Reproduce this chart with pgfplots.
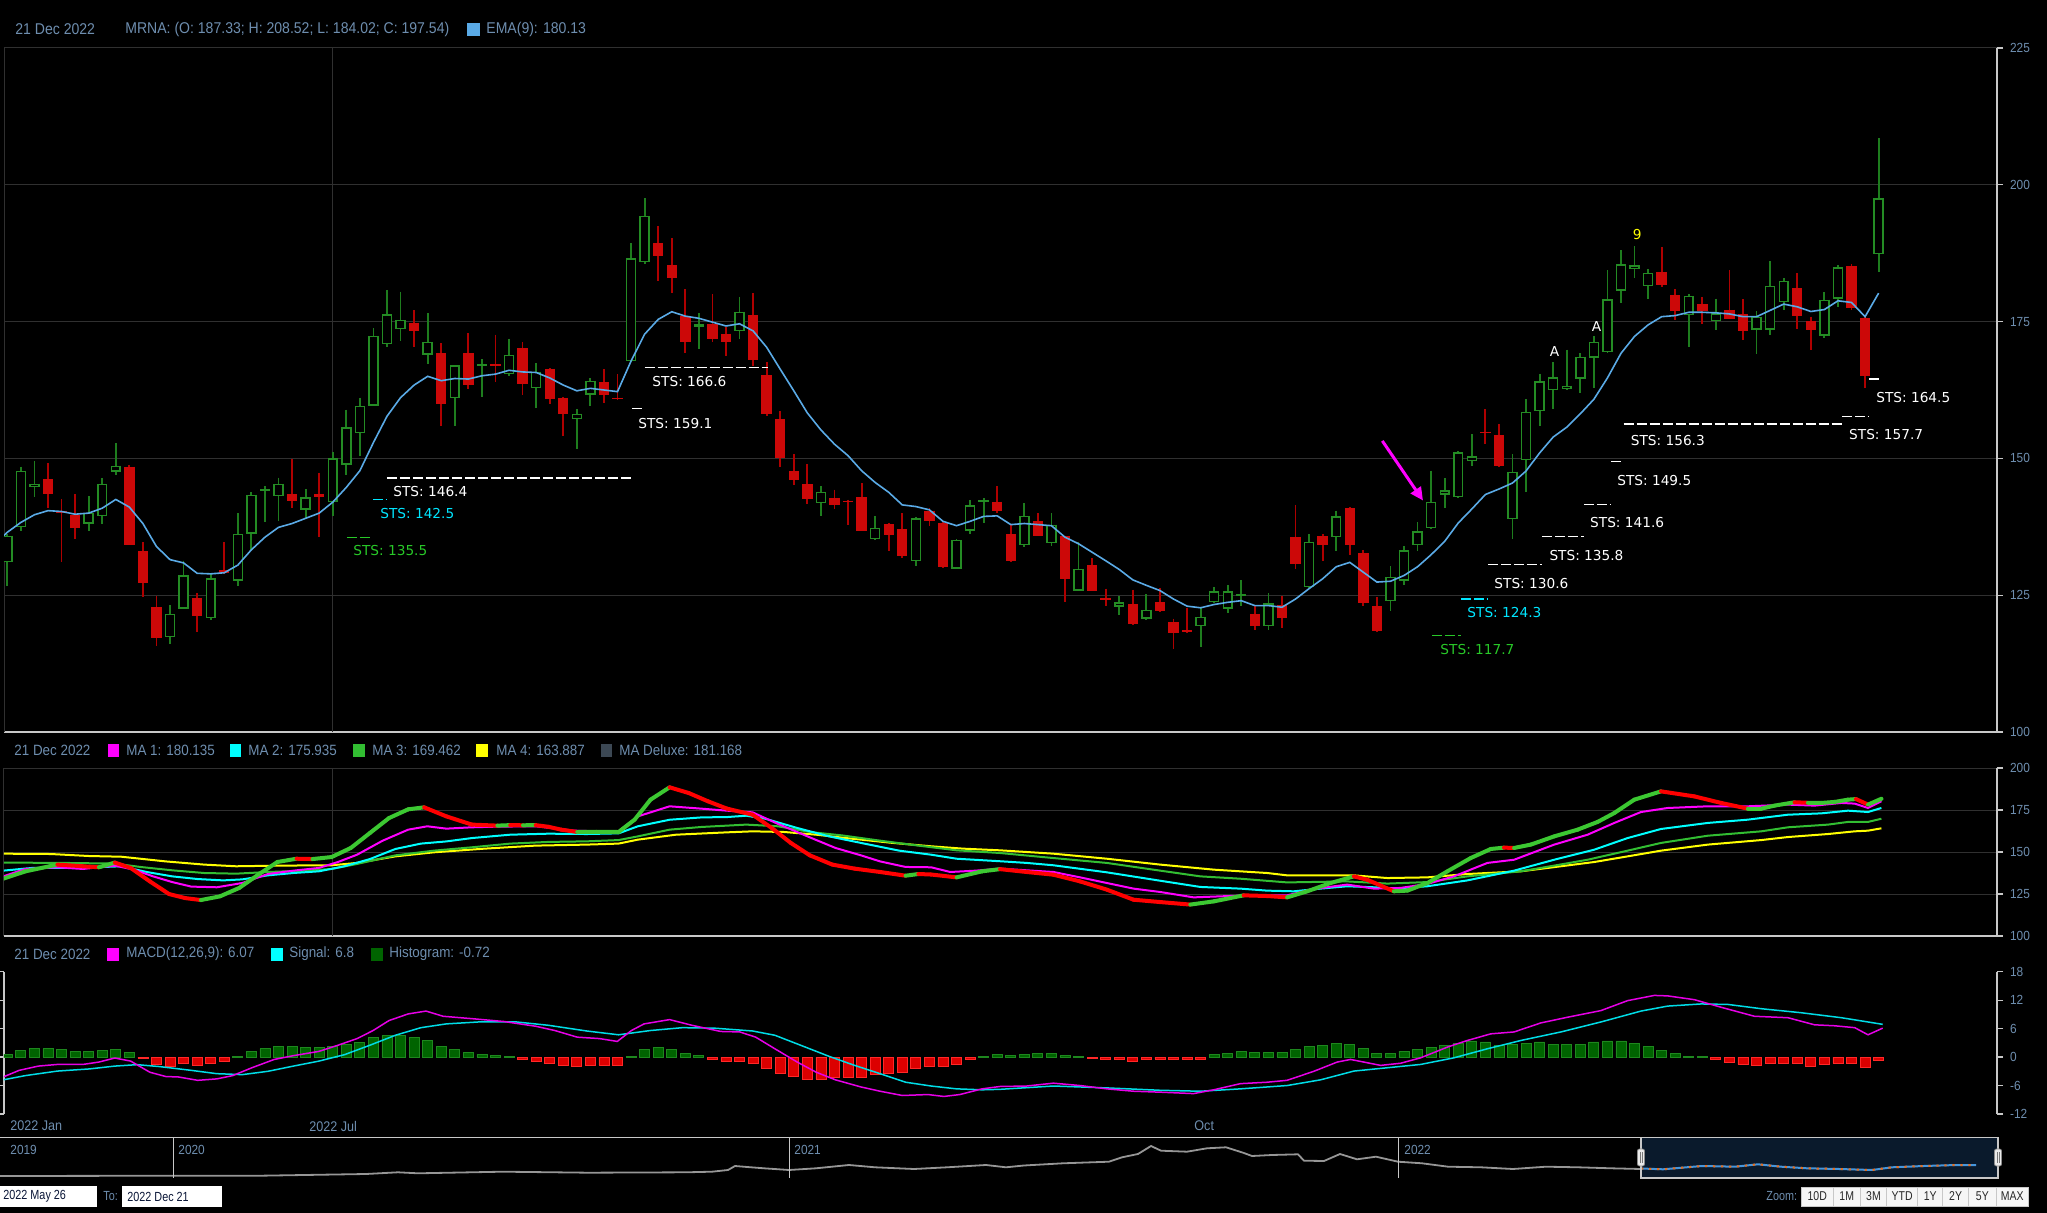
\documentclass[border=0pt]{standalone}
\usepackage{pgfplots}
\pgfplotsset{compat=1.18}
\usepackage{pgfplotstable}
\usepackage{fontspec}
\setmainfont{Liberation Sans}
\newfontfamily\nf[FakeStretch=0.9]{Liberation Sans}
\newfontfamily\nnf[FakeStretch=0.82]{Liberation Sans}
\newfontfamily\dv{DejaVu Sans}
\usetikzlibrary{arrows.meta}
\definecolor{cgreen}{RGB}{36,140,36}
\definecolor{gwick}{RGB}{30,125,30}
\definecolor{cred}{RGB}{204,8,8}
\definecolor{rwick}{RGB}{175,0,0}
\definecolor{emac}{RGB}{90,170,230}
\definecolor{gridc}{RGB}{48,48,48}
\definecolor{axc}{RGB}{200,200,200}
\definecolor{tickc}{RGB}{110,142,175}
\definecolor{ma1}{RGB}{255,0,255}
\definecolor{ma2}{RGB}{0,255,255}
\definecolor{ma3}{RGB}{50,190,50}
\definecolor{ma4}{RGB}{255,255,0}
\definecolor{mdx}{RGB}{60,72,84}
\definecolor{macdc}{RGB}{230,0,230}
\definecolor{sigc}{RGB}{0,220,230}
\definecolor{hg}{RGB}{0,100,0}
\definecolor{hgb}{RGB}{30,135,30}
\definecolor{hr}{RGB}{220,0,0}
\definecolor{hrb}{RGB}{255,40,40}
\definecolor{stscyan}{RGB}{0,230,255}
\definecolor{stsgreen}{RGB}{40,200,40}
\definecolor{navsel}{RGB}{10,26,44}
\definecolor{navline}{RGB}{150,150,150}
\definecolor{navblue}{RGB}{70,150,220}
\definecolor{navorange}{RGB}{230,110,30}
\definecolor{hndf}{RGB}{235,235,235}
\definecolor{hndb}{RGB}{140,140,140}
\definecolor{hndl}{RGB}{120,120,120}
\definecolor{btnf}{RGB}{246,246,246}
\definecolor{btnb}{RGB}{200,200,200}
\definecolor{btnt}{RGB}{40,40,40}
\definecolor{boxt}{RGB}{10,22,55}
\newcommand\tf{\nf\fontsize{6.6}{7.5}\selectfont}
\newcommand\hf{\nf\fontsize{7}{8}\selectfont}
\newcommand\hfa{\nf\fontsize{7.8}{9}\selectfont}
\newcommand\hfb{\nf\fontsize{7.45}{8.5}\selectfont}
\newcommand\stsf{\dv\fontsize{6.85}{8}\selectfont}

\pgfplotstableread{
n o h l c
1 131.0 136.2 126.6 135.9
2 137.4 148.5 136.7 147.75
3 144.7 149.5 142.9 145.4
7 138.1 143.1 136.8 140.1
8 139.4 146.4 138.1 145.4
9 147.6 152.8 147.0 148.7
13 117.3 123.2 116.0 121.6
14 122.5 131.3 122.4 128.6
16 120.8 128.9 120.4 128.1
18 127.6 140.0 126.6 136.2
19 136.2 143.8 133.2 143.4
20 144.0 145.0 138.3 144.4
21 143.1 146.5 138.6 145.4
23 140.6 144.4 138.9 142.9
25 142.0 151.1 139.5 150.0
26 148.8 158.9 147.0 155.7
27 154.6 161.1 150.5 159.6
28 159.6 173.8 159.5 172.4
29 170.9 180.8 170.4 176.3
30 173.6 180.5 171.4 175.3
32 168.9 176.6 167.2 171.3
34 161.0 167.1 155.9 167.0
36 166.8 168.1 161.3 167.2
38 165.4 171.9 165.1 168.9
40 162.8 167.4 159.3 165.8
43 157.2 159.0 151.8 158.2
44 161.6 164.7 159.6 164.2
47 167.8 189.4 167.7 186.6
48 185.8 197.5 185.6 194.3
52 174.1 176.6 170.0 174.5
55 173.2 179.5 171.9 176.8
61 141.8 144.9 139.4 143.9
65 135.2 139.4 135.1 137.35
68 131.2 139.2 130.3 139.05
71 129.8 135.3 129.7 135.1
72 136.8 142.4 136.2 141.4
73 142.0 142.8 138.2 142.4
76 134.1 141.85 133.8 139.5
78 134.5 140.0 133.9 137.9
80 125.85 134.7 125.8 129.8
83 122.9 124.9 121.3 123.7
85 120.7 125.2 120.4 122.3
89 119.3 122.6 115.5 121.1
90 123.7 126.5 123.6 125.7
91 122.5 126.8 121.7 125.7
92 124.8 127.8 123.0 125.2
94 119.3 125.4 118.6 123.5
97 126.5 136.2 126.3 134.8
99 135.6 140.45 133.15 139.4
103 123.9 130.3 122.1 128.4
104 127.6 133.9 126.8 133.2
105 134.1 138.4 133.15 136.7
106 137.2 147.75 137.1 142.1
107 143.4 146.35 140.9 144.2
108 142.9 151.3 142.8 151.1
109 149.5 154.4 148.7 150.4
112 138.9 150.8 135.2 147.6
113 149.7 160.8 143.8 158.5
114 158.6 165.5 156.0 164.1
115 162.5 167.6 159.1 164.8
116 162.6 169.9 162.5 163.3
117 164.6 169.2 161.9 168.6
118 168.4 172.3 162.9 171.3
119 169.4 184.35 169.2 179.1
120 180.6 188.0 178.4 185.5
121 184.55 188.8 183.0 185.3
122 181.5 184.55 179.1 183.9
125 176.2 180.0 170.4 179.7
127 175.1 179.2 173.5 176.5
130 173.5 176.9 169.1 175.9
131 173.5 186.0 172.5 181.55
132 178.55 182.9 177.2 182.5
135 172.4 180.4 172.0 179.0
136 179.2 185.3 177.7 184.9
139 187.33 208.52 184.02 197.54
}\greenc

\pgfplotstableread{
n o h l c
4 146.2 149.2 141.0 143.5
5 140.4 142.6 131.0 140.1
6 139.7 143.5 135.3 137.2
10 148.5 148.8 134.1 134.1
11 133.0 134.7 124.6 127.2
12 122.8 124.9 115.8 117.2
15 124.5 125.4 118.2 121.2
17 129.6 134.7 128.8 129.0
22 143.5 149.9 141.0 142.3
24 143.5 147.4 135.6 142.9
31 174.8 177.1 170.3 173.3
33 169.3 171.0 155.9 159.9
35 169.2 172.9 162.7 163.4
37 167.2 172.6 164.0 166.9
39 170.1 171.2 161.6 163.6
41 166.4 166.5 160.0 160.9
42 161.1 161.2 154.1 158.1
45 164.0 166.3 160.2 161.6
46 161.1 165.4 160.7 160.8
49 189.4 192.5 182.4 186.9
50 185.3 190.3 180.2 183.0
51 176.0 180.9 169.3 171.2
53 174.5 180.0 171.2 171.9
54 172.8 174.0 168.7 171.3
56 176.2 180.2 166.9 168.0
57 165.2 167.6 157.8 158.1
58 157.2 158.6 148.4 150.1
59 147.7 150.8 145.1 146.1
60 145.3 149.0 141.7 142.5
62 142.8 144.3 140.8 141.5
63 142.3 142.45 137.9 142.0
64 142.9 145.5 136.7 136.8
66 138.0 138.2 133.0 136.0
67 137.1 140.0 131.8 132.2
69 140.45 140.9 137.6 138.6
70 138.2 138.3 129.9 130.1
74 142.1 145.0 140.0 140.3
75 136.2 138.0 131.1 131.3
77 138.6 140.0 135.8 135.9
79 135.8 135.9 123.8 128.0
81 130.5 131.8 125.7 125.85
82 124.5 126.2 123.0 124.2
84 123.4 126.0 119.6 119.8
86 123.7 126.3 121.9 122.2
87 120.1 120.7 115.2 118.1
88 118.6 122.7 118.1 118.2
93 121.6 123.1 118.6 119.3
95 123.2 124.9 119.0 120.8
96 135.7 141.5 129.7 130.7
98 135.8 136.2 131.3 134.1
100 140.9 141.1 132.4 134.1
101 132.7 133.3 123.1 123.5
102 123.0 124.6 118.3 118.4
110 154.9 159.0 152.6 154.6
111 154.3 156.3 148.5 148.7
123 184.1 188.65 181.4 181.6
124 179.8 181.0 175.3 176.85
126 178.2 179.5 174.6 176.85
128 177.2 184.35 175.4 175.55
129 176.3 179.1 171.6 173.2
133 181.1 183.8 173.6 176.0
134 175.1 175.9 169.75 173.5
137 185.2 185.5 177.2 177.4
138 175.7 175.9 162.9 165.1
}\redc

\pgfplotstableread{
x y m
3.2 134.1 1
25.5 138.5 1
57.4 142.5 0
82.9 141.5 0
98.9 140.9 1
114.8 143.7 0
130.7 140.5 0
149.9 132.5 0
169.0 125.0 0
184.9 122.6 0
200.9 121.4 1
220.0 123.6 1
239.2 128.6 1
258.3 136.5 1
277.4 144.05 1
296.6 146.0 0
312.5 145.8 1
331.6 147.0 1
350.8 152.4 1
369.9 161.3 1
389.0 170.2 1
408.2 175.4 1
424.1 176.6 0
446.4 171.2 0
471.9 166.3 0
497.4 165.7 1
510.2 166.0 0
523.0 165.9 1
535.7 166.0 0
548.5 165.0 0
561.2 163.3 0
577.2 161.9 1
596.3 162.0 1
618.6 161.9 1
634.6 169.25 1
650.5 181.15 1
669.6 188.5 0
688.8 185.1 0
707.9 180.2 0
727.0 175.8 0
752.6 172.2 0
771.7 164.3 0
790.8 155.4 0
809.9 148.0 0
832.3 142.5 0
854.6 140.1 0
880.1 138.1 0
905.6 135.9 1
918.4 136.9 0
931.1 136.6 0
956.6 134.9 1
982.1 138.5 1
1000 139.8 0
1026.7 138.1 0
1053.4 136.5 0
1080.1 132.5 0
1106.8 127.6 0
1133.5 121.6 0
1160.2 120.2 0
1190.3 118.7 1
1213.7 120.6 1
1243.7 124.2 0
1267.1 123.8 0
1287.1 123.0 1
1307.2 126.6 1
1330.5 131.5 1
1353.9 135.5 0
1367.2 133.5 0
1393.9 126.6 1
1407.3 127.0 1
1427.3 131.5 1
1447.4 138.5 1
1470.7 146.4 1
1490.8 151.8 1
1504.0 152.6 0
1514.1 152.4 1
1530.8 154.4 1
1554.2 159.3 1
1577.6 163.3 1
1597.6 167.9 1
1614.3 173.2 1
1634.3 181.15 1
1661.0 186.1 0
1694.4 183.1 0
1721.1 179.2 0
1747.8 175.8 1
1761.2 175.8 1
1774.5 177.6 1
1794.6 179.6 0
1807.9 179.3 1
1821.3 179.2 1
1834.6 179.8 1
1848.0 181.15 1
1856.0 181.5 0
1868.0 178.2 1
1881.4 181.7 1
}\deluxe

\pgfplotstableread{
n v
1 0.5
2 1.4
3 1.75
4 1.75
5 1.55
6 1.2
7 1.2
8 1.4
9 1.6
10 0.9
11 -0.2
12 -1.55
13 -2.0
14 -1.4
15 -1.75
16 -1.25
17 -0.85
18 0.15
19 1.2
20 1.8
21 2.25
22 2.25
23 2.0
24 2.0
25 2.25
26 2.7
27 3.1
28 4.1
29 4.5
30 4.5
31 4.1
32 3.5
33 2.25
34 1.6
35 1.0
36 0.55
37 0.35
38 0.15
39 -0.5
40 -0.85
41 -1.25
42 -1.75
43 -1.9
44 -1.7
45 -1.7
46 -1.7
47 0.15
48 1.6
49 2.0
50 1.7
51 0.7
52 0.3
53 -0.4
54 -0.85
55 -0.85
56 -1.25
57 -2.3
58 -3.4
59 -4.0
60 -4.6
61 -4.6
62 -4.2
63 -4.2
64 -4.2
65 -3.7
66 -3.5
67 -3.3
68 -2.45
69 -2.0
70 -1.9
71 -1.55
72 -0.55
73 0.15
74 0.5
75 0.35
76 0.55
77 0.85
78 0.85
79 0.3
80 0.15
81 -0.2
82 -0.5
83 -0.55
84 -0.85
85 -0.55
86 -0.4
87 -0.55
88 -0.55
89 -0.4
90 0.55
91 0.85
92 1.25
93 1.0
94 1.0
95 1.0
96 1.7
97 2.25
98 2.4
99 2.95
100 2.7
101 1.75
102 0.85
103 0.85
104 1.25
105 1.7
106 2.1
107 2.4
108 2.95
109 3.4
110 3.2
111 2.4
112 2.7
113 2.95
114 3.2
115 2.7
116 2.7
117 2.7
118 3.2
119 3.4
120 3.4
121 2.95
122 2.25
123 1.4
124 0.7
125 0.15
126 0.07
127 -0.4
128 -1.05
129 -1.55
130 -1.7
131 -1.4
132 -1.25
133 -1.4
134 -1.9
135 -1.6
136 -1.25
137 -1.4
138 -2.25
139 -0.72
}\hist

\begin{document}
\begin{tikzpicture}
\fill[black] (0,0) rectangle (1023.5pt,-606.5pt);
\begin{scope}[x=0.5pt,y=-0.5pt]
\fill[navsel] (1641,1138) rectangle (1998,1178);
\end{scope}

% ================= MAIN PRICE PANEL =================
\begin{axis}[
  at={(2pt,-366pt)}, anchor=south west,
  width=996.5pt, height=342pt, scale only axis,
  xmin=0.7566, xmax=147.73, ymin=100, ymax=225,
  axis x line*=bottom, axis y line*=right,
  axis line style={-, draw=axc, line width=0.6pt},
  xtick=\empty,
  ytick={100,125,150,175,200,225},
  yticklabels={100,125,150,175,200,225},
  yticklabel style={font=\tf, text=tickc},
  tick align=outside, major tick length=3pt,
  y tick style={draw=axc, line width=0.6pt},
  ymajorgrids, grid style={draw=gridc, line width=0.5pt},
  extra x ticks={0.7566,24.95}, extra x tick labels={},
  extra x tick style={grid=major, major tick length=0pt},
]
% red candles
\addplot[forget plot, draw=none, mark=none,
  error bars/y dir=minus, error bars/y explicit, error bars/error mark=none,
  error bars/error bar style={draw=rwick, line width=0.9pt}]
  table[x=n, y=h, y error minus expr=\thisrow{h}-\thisrow{l}] {\redc};
\addplot[forget plot, draw=none, mark=none,
  error bars/y dir=minus, error bars/y explicit, error bars/error mark=none,
  error bars/error bar style={draw=cred, line width=5.2pt}]
  table[x=n, y=o, y error minus expr=\thisrow{o}-\thisrow{c}] {\redc};
% green candles
\addplot[forget plot, draw=none, mark=none,
  error bars/y dir=minus, error bars/y explicit, error bars/error mark=none,
  error bars/error bar style={draw=gwick, line width=0.9pt}]
  table[x=n, y=h, y error minus expr=\thisrow{h}-\thisrow{l}] {\greenc};
\addplot[forget plot, draw=none, mark=none,
  error bars/y dir=minus, error bars/y explicit, error bars/error mark=none,
  error bars/error bar style={draw=cgreen, line width=5.2pt}]
  table[x=n, y=c, y error minus expr=\thisrow{c}-\thisrow{o}] {\greenc};
\addplot[forget plot, draw=none, mark=none,
  error bars/y dir=minus, error bars/y explicit, error bars/error mark=none,
  error bars/error bar style={draw=black, line width=3.7pt}]
  table[x=n, y expr=\thisrow{c}-0.27, y error minus expr={max(\thisrow{c}-\thisrow{o}-0.54,0)}] {\greenc};
% EMA(9)
\addplot[emac, line width=0.8pt] coordinates {
(0.76,135.9) (1,136.5) (2,138.3) (3,139.7) (4,140.45) (5,140.3) (6,139.8) (7,140.0) (8,140.9) (9,142.5) (10,141.1)
(11,138.1) (12,133.9) (13,131.5) (14,130.9) (15,129.0) (16,128.9) (17,129.1) (18,130.5) (19,133.3) (20,135.6)
(21,137.4) (22,138.1) (23,139.05) (24,140.0) (25,142.0) (26,144.7) (27,147.75) (28,152.9) (29,157.7) (30,161.1)
(31,163.4) (32,165.0) (33,164.2) (34,164.6) (35,164.5) (36,165.1) (37,165.4) (38,166.1) (39,165.8) (40,165.7)
(41,164.7) (42,163.4) (43,162.35) (44,162.8) (45,162.5) (46,162.2) (47,167.8) (48,172.7) (49,175.4) (50,176.8)
(51,176.0) (52,175.6) (53,174.9) (54,174.2) (55,174.6) (56,173.3) (57,170.3) (58,166.3) (59,162.35) (60,158.3)
(61,155.2) (62,152.6) (63,150.5) (64,147.75) (65,145.6) (66,143.8) (67,141.5) (68,141.2) (69,140.6) (70,138.5)
(71,137.7) (72,138.5) (73,139.4) (74,139.5) (75,137.9) (76,138.1) (77,137.9) (78,137.7) (79,135.6) (80,134.4)
(81,132.85) (82,131.3) (83,129.7) (84,127.8) (85,126.8) (86,125.85) (87,124.3) (88,123.0) (89,122.7) (90,123.3)
(91,123.7) (92,124.0) (93,123.1) (94,123.1) (95,122.8) (96,124.3) (97,126.2) (98,128.0) (99,130.2) (100,131.0)
(101,129.2) (102,127.4) (103,127.55) (104,128.6) (105,130.2) (106,132.4) (107,134.85) (108,138.2) (109,140.75) (110,143.4)
(111,144.4) (112,145.5) (113,147.7) (114,151.0) (115,153.9) (116,155.7) (117,158.15) (118,160.8) (119,164.7) (120,169.2)
(121,172.3) (122,174.4) (123,175.9) (124,176.1) (125,176.7) (126,176.7) (127,176.6) (128,176.4) (129,175.9) (130,175.9)
(131,177.05) (132,178.2) (133,177.7) (134,176.85) (135,177.2) (136,178.8) (137,178.5) (138,175.9) (139,180.2)
};
% STS levels
\addplot[white, line width=0.6pt, dash pattern=on 5pt off 1.5pt] coordinates {(28.99,146.4) (47.07,146.4)};
\addplot[stscyan, line width=0.6pt, dash pattern=on 5pt off 1.5pt] coordinates {(27.96,142.5) (28.99,142.5)};
\addplot[stsgreen, line width=0.6pt, dash pattern=on 5pt off 1.5pt] coordinates {(26.05,135.5) (27.96,135.5)};
\addplot[white, line width=0.6pt, dash pattern=on 5pt off 1.5pt] coordinates {(48.0,166.6) (57.1,166.6)};
\addplot[white, line width=0.6pt, dash pattern=on 5pt off 1.5pt] coordinates {(47.07,159.1) (48.0,159.1)};
\addplot[stscyan, line width=0.6pt, dash pattern=on 5pt off 1.5pt] coordinates {(108.2,124.3) (110.2,124.3)};
\addplot[stsgreen, line width=0.6pt, dash pattern=on 5pt off 1.5pt] coordinates {(106.1,117.7) (108.2,117.7)};
\addplot[white, line width=0.6pt, dash pattern=on 5pt off 1.5pt] coordinates {(110.2,130.6) (114.2,130.6)};
\addplot[white, line width=0.6pt, dash pattern=on 5pt off 1.5pt] coordinates {(114.2,135.8) (117.3,135.8)};
\addplot[white, line width=0.6pt, dash pattern=on 5pt off 1.5pt] coordinates {(117.3,141.6) (119.3,141.6)};
\addplot[white, line width=0.6pt, dash pattern=on 5pt off 1.5pt] coordinates {(119.3,149.5) (120.2,149.5)};
\addplot[white, line width=0.6pt, dash pattern=on 5pt off 1.5pt] coordinates {(120.2,156.3) (136.3,156.3)};
\addplot[white, line width=0.6pt, dash pattern=on 5pt off 1.5pt] coordinates {(136.3,157.7) (138.3,157.7)};
\addplot[white, line width=0.6pt, dash pattern=on 5pt off 1.5pt] coordinates {(138.3,164.5) (139.2,164.5)};
\begin{scope}[every node/.style={anchor=west, inner sep=0pt, font=\stsf}]
\node[text=white] at (axis cs:29.44,143.9) {STS: 146.4};
\node[text=stscyan] at (axis cs:28.48,140.0) {STS: 142.5};
\node[text=stsgreen] at (axis cs:26.49,133.1) {STS: 135.5};
\node[text=white] at (axis cs:48.55,164.1) {STS: 166.6};
\node[text=white] at (axis cs:47.51,156.4) {STS: 159.1};
\node[text=stscyan] at (axis cs:108.65,121.8) {STS: 124.3};
\node[text=stsgreen] at (axis cs:106.66,115.0) {STS: 117.7};
\node[text=white] at (axis cs:110.64,127.1) {STS: 130.6};
\node[text=white] at (axis cs:114.7,132.2) {STS: 135.8};
\node[text=white] at (axis cs:117.7,138.2) {STS: 141.6};
\node[text=white] at (axis cs:119.7,146.0) {STS: 149.5};
\node[text=white] at (axis cs:120.7,153.2) {STS: 156.3};
\node[text=white] at (axis cs:136.8,154.4) {STS: 157.7};
\node[text=white] at (axis cs:138.8,161.2) {STS: 164.5};
\end{scope}
\node[text=white, inner sep=0pt, font=\stsf] at (axis cs:115.1,169.5) {A};
\node[text=white, inner sep=0pt, font=\stsf] at (axis cs:118.2,174.1) {A};
\node[text=ma4, inner sep=0pt, font=\stsf] at (axis cs:121.2,191.0) {9};
\draw[ma1, line width=1.5pt, -{Triangle[length=6.5pt,width=6pt]}] (axis cs:102.4,153.2) -- (axis cs:105.4,142.3);
\end{axis}

% ================= MA PANEL =================
\begin{axis}[
  at={(2pt,-468pt)}, anchor=south west,
  width=996.5pt, height=84pt, scale only axis,
  xmin=4, xmax=1997, ymin=100, ymax=200,
  axis x line*=bottom, axis y line*=right,
  axis line style={-, draw=axc, line width=0.6pt},
  xtick=\empty,
  ytick={100,125,150,175,200},
  yticklabels={100,125,150,175,200},
  yticklabel style={font=\tf, text=tickc},
  tick align=outside, major tick length=3pt,
  y tick style={draw=axc, line width=0.6pt},
  ymajorgrids, grid style={draw=gridc, line width=0.5pt},
  extra x ticks={4,332}, extra x tick labels={},
  extra x tick style={grid=major, major tick length=0pt},
  colormap={rg}{rgb255=(255,0,0) rgb255=(60,200,50)},
  point meta min=0, point meta max=1,
]
\addplot[ma4, line width=1pt] coordinates {
(3.2,149.0) (51.0,148.8) (89.3,147.6) (121.2,147.2) (165.8,144.4) (204.1,142.5) (236.0,141.5) (280.6,141.9) (331.6,142.1) (357.1,143.5) (395.4,147.4) (433.7,149.8) (484.7,152.0) (535.7,153.8) (586.7,154.4) (618.6,155.0) (637.8,157.35) (676.0,160.3) (727.0,161.7) (752.6,162.3) (784.4,161.9) (816.3,160.3) (854.6,157.75) (892.9,155.4) (931.1,153.4) (963.0,152.0) (1000,151.0) (1053.4,149.0) (1106.8,146.0) (1160.2,142.5) (1213.7,139.5) (1267.1,137.5) (1287.1,136.1) (1353.9,136.1) (1387.3,134.5) (1427.3,134.9) (1467.4,136.9) (1520.8,138.5) (1560.9,141.5) (1594.3,144.05) (1627.6,147.4) (1661.0,150.8) (1707.8,154.4) (1761.2,157.1) (1787.9,158.9) (1828.0,160.7) (1854.7,162.3) (1868.0,162.7) (1881.4,164.1)
};
\addplot[ma3, line width=1pt] coordinates {
(3.2,143.7) (63.8,143.5) (114.8,143.1) (140.3,141.1) (172.2,139.1) (204.1,137.5) (236.0,137.1) (267.9,138.1) (306.1,138.9) (331.6,139.9) (357.1,142.9) (395.4,148.0) (433.7,150.8) (471.9,152.8) (510.2,155.0) (548.5,156.0) (586.7,156.35) (618.6,157.1) (637.8,159.3) (669.6,163.3) (701.5,164.9) (746.2,166.3) (778.1,165.3) (809.9,161.9) (841.8,159.9) (880.1,156.75) (918.4,153.8) (956.6,151.0) (1000,149.4) (1053.4,146.4) (1106.8,143.5) (1160.2,138.9) (1200.3,135.5) (1240.4,134.1) (1287.1,131.9) (1347.2,132.5) (1387.3,131.2) (1427.3,132.1) (1467.4,135.5) (1520.8,138.5) (1554.2,141.9) (1587.6,145.4) (1627.6,150.8) (1661.0,155.4) (1707.8,159.7) (1761.2,162.3) (1787.9,164.7) (1828.0,166.3) (1848.0,167.9) (1868.0,167.9) (1881.4,169.8)
};
\addplot[ma2, line width=1pt] coordinates {
(3.2,138.9) (31.9,140.5) (63.8,140.5) (95.7,140.9) (121.2,141.5) (146.7,138.1) (172.2,135.5) (197.7,133.9) (223.2,133.1) (242.3,133.7) (267.9,136.1) (293.4,137.5) (318.9,138.5) (344.4,141.5) (369.9,145.8) (395.4,151.8) (420.9,155.0) (446.4,156.3) (471.9,158.3) (510.2,160.3) (548.5,160.9) (586.7,160.7) (618.6,161.1) (637.8,165.3) (669.6,169.2) (701.5,170.6) (727.0,170.8) (746.2,171.6) (765.3,169.8) (797.2,164.3) (829.1,159.3) (861.0,155.4) (899.2,150.8) (931.1,148.4) (956.6,146.0) (1000,144.5) (1026.7,143.5) (1053.4,142.1) (1106.8,137.9) (1160.2,132.9) (1200.3,129.2) (1240.4,128.2) (1267.1,127.0) (1293.8,126.6) (1320.5,128.2) (1347.2,129.6) (1373.9,129.0) (1393.9,128.2) (1427.3,129.6) (1467.4,133.1) (1514.1,138.9) (1554.2,145.4) (1594.3,151.4) (1627.6,158.3) (1661.0,163.7) (1707.8,167.3) (1747.8,169.25) (1787.9,172.2) (1821.3,173.0) (1848.0,174.6) (1868.0,173.8) (1881.4,176.2)
};
\addplot[ma1, line width=1pt] coordinates {
(3.2,135.5) (25.5,139.9) (57.4,140.9) (82.9,139.9) (114.8,141.9) (133.9,139.5) (153.1,135.5) (172.2,132.1) (191.3,129.4) (216.8,129.0) (242.3,131.55) (267.9,136.9) (293.4,138.9) (318.9,140.5) (338.0,144.05) (357.1,148.4) (382.7,156.75) (408.2,163.3) (427.3,165.3) (446.4,163.9) (471.9,164.7) (497.4,165.1) (535.7,165.3) (574.0,162.7) (599.5,162.3) (618.6,162.3) (637.8,171.2) (669.6,177.2) (701.5,175.8) (727.0,174.6) (752.6,173.6) (778.1,166.7) (809.9,158.7) (835.5,152.4) (861.0,148.0) (880.1,144.4) (905.6,141.1) (931.1,140.9) (950.3,138.1) (975.8,138.9) (1000,140.1) (1053.4,138.1) (1080.1,134.9) (1133.5,128.2) (1160.2,126.2) (1193.6,123.0) (1220.3,123.6) (1247.1,124.2) (1287.1,124.2) (1313.8,128.0) (1347.2,130.6) (1373.9,128.2) (1400.6,128.6) (1427.3,131.0) (1454.0,135.5) (1487.4,143.5) (1514.1,145.4) (1554.2,154.4) (1587.6,160.3) (1614.3,167.3) (1641.0,173.8) (1667.7,176.2) (1707.8,177.2) (1747.8,177.2) (1787.9,178.2) (1814.6,177.6) (1841.3,179.2) (1854.7,178.8) (1868.0,176.2) (1881.4,180.2)
};
\addplot[mesh, shader=flat corner, point meta=explicit, line width=2pt, line cap=round]
  table[x=x, y=y, meta=m] {\deluxe};
\end{axis}

% ================= MACD PANEL =================
\begin{axis}[
  at={(2pt,-557pt)}, anchor=south west,
  width=996.5pt, height=71.15pt, scale only axis,
  xmin=4, xmax=1997, ymin=-12, ymax=18,
  axis x line=none, axis y line=box,
  axis line style={-, draw=axc, line width=0.6pt},
  xtick=\empty,
  ytick={-12,-6,0,6,12,18},
  yticklabels={-12,-6,0,6,12,18},
  ytick pos=both, yticklabel pos=right,
  yticklabel style={font=\tf, text=tickc},
  tick align=outside, major tick length=3pt,
  y tick style={draw=axc, line width=0.6pt},
]
\addplot[ybar, bar width=5pt, bar shift=0pt, fill=hg, draw=hgb, line width=0.4pt, restrict y to domain=0:100]
  table[x expr=7.3+(\thisrow{n}-1)*13.56, y=v] {\hist};
\addplot[ybar, bar width=5pt, bar shift=0pt, fill=hr, draw=hrb, line width=0.4pt, restrict y to domain=-100:0]
  table[x expr=7.3+(\thisrow{n}-1)*13.56, y=v] {\hist};
\addplot[sigc, line width=0.75pt] coordinates {
(3.2,-4.8) (25.5,-3.9) (57.4,-2.95) (89.3,-2.5) (114.8,-1.9) (137.1,-1.6) (159.4,-2.0) (191.3,-2.8) (216.8,-3.5) (242.3,-3.7) (267.9,-3.0) (293.4,-1.9) (318.9,-0.85) (344.4,0.5) (369.9,2.5) (395.4,4.6) (420.9,6.2) (446.4,7.0) (478.3,7.4) (516.6,7.4) (548.5,6.7) (586.7,5.5) (618.6,4.7) (650.5,5.6) (682.4,6.2) (714.3,6.1) (752.6,5.5) (774.9,4.6) (803.6,2.25) (829.1,0.15) (854.6,-1.75) (880.1,-3.5) (905.6,-5.3) (931.1,-6.1) (956.6,-6.7) (982.1,-6.9) (1000,-6.8) (1053.4,-6.1) (1106.8,-6.5) (1160.2,-7.0) (1200.3,-7.2) (1240.4,-6.7) (1287.1,-6.0) (1320.5,-4.8) (1353.9,-2.95) (1387.3,-2.25) (1420.7,-1.55) (1454.0,-0.15) (1487.4,1.75) (1520.8,3.5) (1560.9,5.3) (1600.9,7.4) (1641.0,9.7) (1667.7,10.75) (1701.1,11.2) (1727.8,11.1) (1761.2,10.2) (1801.2,9.35) (1841.3,8.3) (1868.0,7.4) (1882.7,6.9)
};
\addplot[macdc, line width=0.75pt] coordinates {
(3.2,-4.2) (19.1,-2.8) (38.3,-1.9) (57.4,-1.55) (82.9,-1.55) (98.9,-1.05) (114.8,-0.2) (130.7,-0.85) (149.9,-3.2) (165.8,-4.1) (178.6,-4.2) (197.7,-4.9) (216.8,-4.6) (232.8,-3.9) (251.9,-2.25) (274.2,-0.5) (293.4,0.3) (318.9,1.2) (338.0,2.5) (357.1,3.9) (373.1,5.6) (389.0,7.7) (408.2,9.1) (426.0,9.7) (443.2,8.6) (471.9,8.1) (503.8,7.5) (535.7,6.5) (554.8,5.6) (577.2,4.2) (599.5,3.9) (617.3,3.3) (631.4,5.6) (644.1,7.0) (669.6,7.9) (692.0,6.7) (720.7,5.4) (739.8,5.3) (755.7,4.2) (774.9,1.75) (797.2,-1.05) (816.3,-3.2) (835.5,-4.8) (861.0,-6.3) (880.1,-7.2) (902.4,-8.1) (927.9,-7.9) (943.9,-8.3) (959.8,-7.9) (982.1,-6.7) (1000,-6.2) (1026.7,-6.1) (1053.4,-5.5) (1080.1,-6.0) (1106.8,-6.7) (1133.5,-7.2) (1160.2,-7.4) (1193.6,-7.7) (1213.7,-6.9) (1240.4,-5.6) (1267.1,-5.3) (1287.1,-4.9) (1313.8,-3.0) (1337.2,-1.05) (1350.5,-0.5) (1380.6,-1.75) (1400.6,-1.3) (1420.7,-0.15) (1447.4,2.1) (1467.4,3.5) (1490.8,4.9) (1514.1,5.3) (1540.8,7.2) (1567.5,8.4) (1600.9,9.8) (1627.6,11.9) (1654.3,13.0) (1667.7,12.9) (1694.4,12.1) (1721.1,10.5) (1754.5,8.6) (1787.9,8.3) (1814.6,6.8) (1834.6,6.6) (1854.7,6.2) (1868.0,4.7) (1882.7,6.1)
};
\end{axis}

% ================= NAVIGATOR =================
\begin{axis}[
  at={(0pt,-589pt)}, anchor=south west,
  width=999pt, height=20.5pt, scale only axis,
  xmin=0, xmax=1998, ymin=1137, ymax=1178, y dir=reverse,
  hide axis, clip=false,
]
\addplot[navline, line width=0.9pt] coordinates {
(0,1176) (130,1175.8) (261,1175.7) (366,1174) (398,1172.3) (418,1173.3) (503,1171.7) (588,1172.7) (686,1172.3) (712,1171.7) (728,1170) (735,1166) (751,1167.3) (764,1168.3) (789,1170) (816,1168.3) (849,1165) (875,1167.3) (914,1169) (947,1167.3) (986,1165) (1006,1167.3) (1024,1165.5) (1063,1163.3) (1109,1161.7) (1122,1157.3) (1138,1154) (1151,1146) (1161,1150.7) (1187,1151.7) (1207,1148.3) (1226,1147.3) (1243,1152.7) (1252,1156) (1272,1155) (1298,1154.3) (1304,1160.7) (1324,1161) (1340,1154) (1357,1159.3) (1376,1156.7) (1398,1161.7) (1422,1163.3) (1448,1166.7) (1481,1167.3) (1513,1169) (1546,1166.7) (1578,1167.3) (1611,1168.3) (1641,1169)
};
\addplot[navblue, line width=1pt] coordinates {
(1641,1168.5) (1663,1169.3) (1702,1166) (1735,1166.7) (1758,1164.3) (1781,1166.7) (1807,1168.3) (1839,1169) (1872,1170) (1892,1167.3) (1924,1166) (1957,1165) (1976,1165)
};
\addplot[navorange, line width=1pt, dash pattern=on 1.2pt off 2.8pt] coordinates {
(1641,1168.5) (1663,1169.3) (1702,1166) (1735,1166.7) (1758,1164.3) (1781,1166.7) (1807,1168.3) (1839,1169) (1872,1170) (1892,1167.3) (1924,1166) (1957,1165) (1976,1165)
};
\end{axis}

% ================= TEXT, UI =================
\begin{scope}[x=0.5pt,y=-0.5pt]
\node[anchor=west, inner sep=0pt, font=\hfa, text=tickc] at (15,29) {21 Dec 2022};
\node[anchor=west, inner sep=0pt, font=\hfa, text=tickc] at (125,29) {MRNA: (O: 187.33; H: 208.52; L: 184.02; C: 197.54)};
\fill[emac] (467,23) rectangle (480,36);
\node[anchor=west, inner sep=0pt, font=\hfa, text=tickc] at (486,29) {EMA(9): 180.13};

\node[anchor=west, inner sep=0pt, font=\hfb, text=tickc] at (14,750) {21 Dec 2022};
\fill[ma1] (108,744) rectangle (119,757);
\node[anchor=west, inner sep=0pt, font=\hfb, text=tickc] at (126,750) {MA 1: 180.135};
\fill[ma2] (230,744) rectangle (241,757);
\node[anchor=west, inner sep=0pt, font=\hfb, text=tickc] at (248,750) {MA 2: 175.935};
\fill[ma3] (353,744) rectangle (365,757);
\node[anchor=west, inner sep=0pt, font=\hfb, text=tickc] at (372,750) {MA 3: 169.462};
\fill[ma4] (476,744) rectangle (488,757);
\node[anchor=west, inner sep=0pt, font=\hfb, text=tickc] at (496,750) {MA 4: 163.887};
\fill[mdx] (601,744) rectangle (612,757);
\node[anchor=west, inner sep=0pt, font=\hfb, text=tickc] at (619,750) {MA Deluxe: 181.168};

\node[anchor=west, inner sep=0pt, font=\hfb, text=tickc] at (14,954) {21 Dec 2022};
\fill[ma1] (107,948) rectangle (119,961);
\node[anchor=west, inner sep=0pt, font=\hfb, text=tickc] at (126,954) {MACD(12,26,9): 6.07};
\fill[ma2] (271,948) rectangle (283,961);
\node[anchor=west, inner sep=0pt, font=\hfb, text=tickc] at (289,954) {Signal: 6.8};
\fill[hg] (371,948) rectangle (383,961);
\node[anchor=west, inner sep=0pt, font=\hfb, text=tickc] at (389,954) {Histogram: -0.72};

\node[anchor=west, inner sep=0pt, font=\hf, text=tickc] at (10,1126) {2022 Jan};
\node[anchor=west, inner sep=0pt, font=\hf, text=tickc] at (309,1126) {2022 Jul};
\node[anchor=west, inner sep=0pt, font=\hf, text=tickc] at (1194,1126) {Oct};

\draw[axc, line width=0.8pt] (0,1137.5) -- (1998,1137.5);
\draw[axc, line width=0.5pt] (173,1137.5) -- (173,1178);
\draw[axc, line width=0.5pt] (789,1137.5) -- (789,1178);
\draw[axc, line width=0.5pt] (1398,1137.5) -- (1398,1178);
\draw[axc, line width=0.6pt] (1641,1137.5) rectangle (1998,1178);
\node[anchor=west, inner sep=0pt, font=\tf, text=tickc] at (10,1150) {2019};
\node[anchor=west, inner sep=0pt, font=\tf, text=tickc] at (178,1150) {2020};
\node[anchor=west, inner sep=0pt, font=\tf, text=tickc] at (794,1150) {2021};
\node[anchor=west, inner sep=0pt, font=\tf, text=tickc] at (1404,1150) {2022};
\filldraw[fill=hndf, draw=hndb, line width=0.4pt, rounded corners=1pt] (1637.5,1149) rectangle (1644.5,1166);
\draw[hndl, line width=0.3pt] (1640,1152) -- (1640,1163) (1642,1152) -- (1642,1163);
\filldraw[fill=hndf, draw=hndb, line width=0.4pt, rounded corners=1pt] (1994.5,1149) rectangle (2001.5,1166);
\draw[hndl, line width=0.3pt] (1997,1152) -- (1997,1163) (1999,1152) -- (1999,1163);

\fill[white] (0,1186) rectangle (97,1207);
\node[anchor=west, inner sep=0pt, font=\nnf\fontsize{6.6}{7.5}\selectfont, text=boxt] at (3,1196.5) {2022 May 26};
\node[anchor=west, inner sep=0pt, font=\nnf\fontsize{6.6}{7.5}\selectfont, text=tickc] at (103,1196.5) {To:};
\fill[white] (122,1186) rectangle (222,1207);
\node[anchor=west, inner sep=0pt, font=\nnf\fontsize{6.6}{7.5}\selectfont, text=boxt] at (127,1196.5) {2022 Dec 21};

\node[anchor=west, inner sep=0pt, font=\nnf\fontsize{6.6}{7.5}\selectfont, text=tickc] at (1766,1196.5) {Zoom:};
\filldraw[fill=btnf, draw=btnb, line width=0.4pt] (1801.5,1187) rectangle (2028.5,1206);
\foreach \xx in {1833,1860.4,1886.5,1917.8,1942.6,1968.7,1996} {
  \draw[btnb, line width=0.4pt] (\xx,1187) -- (\xx,1206);
}
\foreach \xa/\xb/\lab in {1801.5/1833/10D,1833/1860.4/1M,1860.4/1886.5/3M,1886.5/1917.8/YTD,1917.8/1942.6/1Y,1942.6/1968.7/2Y,1968.7/1996/5Y,1996/2028.5/MAX} {
  \node[inner sep=0pt, font=\nnf\fontsize{6.4}{7.5}\selectfont, text=btnt] at ({(\xa+\xb)/2},1196.5) {\lab};
}
\end{scope}

\pgfresetboundingbox
\path (0,0) rectangle (1023.5pt,-606.5pt);
\end{tikzpicture}
\end{document}
